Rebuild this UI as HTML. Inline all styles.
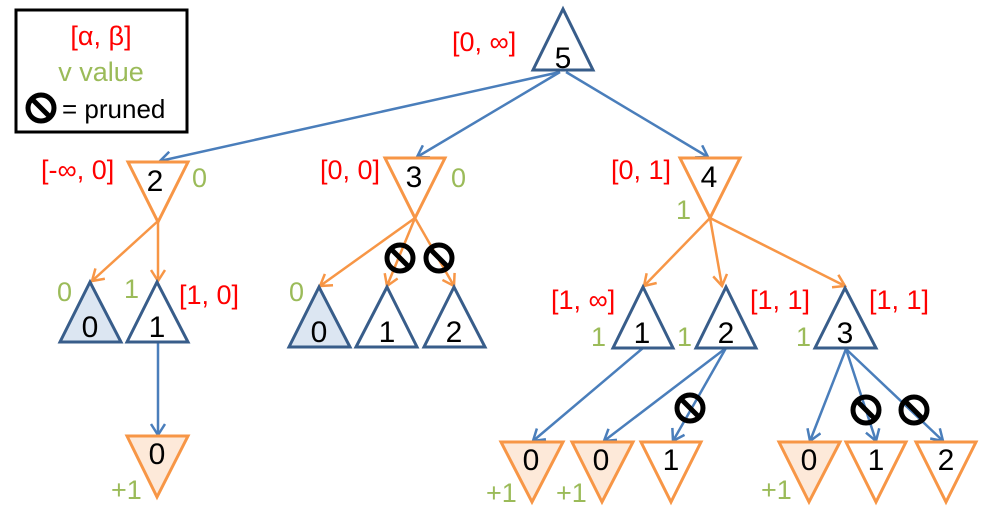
<!DOCTYPE html>
<html><head><meta charset="utf-8"><style>
html,body{margin:0;padding:0;background:#fff;}
svg{display:block;font-family:"Liberation Sans","DejaVu Sans",sans-serif;}
.r{fill:#ff0000;font-size:27px;}
.g{fill:#9bbb59;font-size:27px;}
.k{fill:#000;font-size:30px;text-anchor:middle;}
.mx{stroke:#385d8a;stroke-width:3;fill:#fff;}
.mxf{stroke:#385d8a;stroke-width:3;fill:#dce6f2;}
.mn{stroke:#f79646;stroke-width:3;fill:#fff;}
.mnf{stroke:#f79646;stroke-width:3;fill:#fde9d9;}
.b{stroke:#4a7ebb;stroke-width:2.5;fill:none;marker-end:url(#ab);}
.o{stroke:#f79646;stroke-width:2.5;fill:none;marker-end:url(#ao);}
</style></head><body>
<svg width="993" height="520" viewBox="0 0 993 520">
<defs>
<marker id="ab" markerWidth="14" markerHeight="16" refX="12" refY="8" orient="auto" markerUnits="userSpaceOnUse"><path d="M1,1 L12,8 L1,15" fill="none" stroke="#4a7ebb" stroke-width="2.5"/></marker>
<marker id="ao" markerWidth="14" markerHeight="16" refX="12" refY="8" orient="auto" markerUnits="userSpaceOnUse"><path d="M1,1 L12,8 L1,15" fill="none" stroke="#f79646" stroke-width="2.5"/></marker>
<g id="pr"><circle r="13" fill="none" stroke="#000" stroke-width="5"/><line x1="-9" y1="-9" x2="9" y2="9" stroke="#000" stroke-width="5"/></g>
</defs>
<rect x="16" y="10" width="171" height="122" fill="#fff" stroke="#000" stroke-width="3"/>
<text x="101" y="45" class="r" text-anchor="middle">[α, β]</text>
<text x="101" y="81" class="g" text-anchor="middle">v value</text>
<use href="#pr" x="41" y="108"/>
<text x="62" y="118" style="font-size:26px">= pruned</text>

<line class="b" x1="560" y1="72" x2="160" y2="161"/>
<line class="b" x1="560" y1="72" x2="417" y2="157"/>
<line class="b" x1="566" y1="72" x2="708" y2="157"/>
<line class="o" x1="158" y1="221" x2="92" y2="281"/>
<line class="o" x1="158" y1="221" x2="158" y2="281"/>
<line class="b" x1="158" y1="343" x2="158" y2="435"/>
<line class="o" x1="415" y1="218" x2="320" y2="286"/>
<line class="o" x1="415" y1="218" x2="387" y2="286"/>
<line class="o" x1="415" y1="218" x2="454" y2="286"/>
<line class="o" x1="710" y1="218" x2="644" y2="286"/>
<line class="o" x1="710" y1="218" x2="722" y2="286"/>
<line class="o" x1="710" y1="218" x2="845" y2="286"/>
<line class="b" x1="643" y1="348" x2="533" y2="441"/>
<line class="b" x1="726" y1="348" x2="604" y2="441"/>
<line class="b" x1="726" y1="348" x2="673" y2="441"/>
<line class="b" x1="846" y1="349" x2="810" y2="441"/>
<line class="b" x1="846" y1="349" x2="876" y2="441"/>
<line class="b" x1="846" y1="349" x2="943" y2="441"/>

<polygon class="mx" points="563,9 533,70 593,70"/>
<text x="563" y="68" class="k">5</text>
<text x="452" y="51" class="r">[0, ∞]</text>

<polygon class="mn" points="128,162 188,162 158,222"/>
<text x="155" y="191" class="k">2</text>
<text x="41" y="179" class="r">[-∞, 0]</text>
<text x="192" y="187" class="g">0</text>

<polygon class="mn" points="385,158 445,158 415,218"/>
<text x="414" y="187" class="k">3</text>
<text x="320" y="179" class="r">[0, 0]</text>
<text x="451" y="187" class="g">0</text>

<polygon class="mn" points="680,158 740,158 710,218"/>
<text x="709" y="187" class="k">4</text>
<text x="611" y="179" class="r">[0, 1]</text>
<text x="676" y="219" class="g">1</text>

<polygon class="mxf" points="90,282 60,342 121,342"/>
<text x="90" y="337" class="k">0</text>
<text x="57" y="301" class="g">0</text>
<polygon class="mx" points="157,282 127,342 188,342"/>
<text x="157" y="337" class="k">1</text>
<text x="124" y="298" class="g">1</text>
<text x="179" y="304" class="r">[1, 0]</text>

<polygon class="mxf" points="319,287 289,347 350,347"/>
<text x="319" y="342" class="k">0</text>
<text x="289" y="301" class="g">0</text>
<polygon class="mx" points="387,287 356,347 417,347"/>
<text x="387" y="342" class="k">1</text>
<polygon class="mx" points="454,287 424,347 485,347"/>
<text x="454" y="342" class="k">2</text>
<use href="#pr" x="400" y="258"/>
<use href="#pr" x="439" y="258"/>

<polygon class="mx" points="643,287 613,348 673,348"/>
<text x="642" y="343" class="k">1</text>
<text x="551" y="309" class="r">[1, ∞]</text>
<text x="591" y="346" class="g">1</text>
<polygon class="mx" points="726,287 696,348 756,348"/>
<text x="726" y="343" class="k">2</text>
<text x="677" y="346" class="g">1</text>
<text x="750" y="309" class="r">[1, 1]</text>
<polygon class="mx" points="845,288 815,348 876,348"/>
<text x="845" y="343" class="k">3</text>
<text x="796" y="346" class="g">1</text>
<text x="869" y="309" class="r">[1, 1]</text>

<polygon class="mnf" points="127,436 188,436 157,497"/>
<text x="157" y="464" class="k">0</text>
<text x="111" y="499" class="g">+1</text>

<polygon class="mnf" points="501,442 563,442 532,502"/>
<text x="531" y="470" class="k">0</text>
<text x="486" y="502" class="g">+1</text>
<polygon class="mnf" points="572,442 633,442 602,502"/>
<text x="601" y="470" class="k">0</text>
<text x="556" y="502" class="g">+1</text>
<polygon class="mn" points="641,442 701,442 671,502"/>
<text x="671" y="470" class="k">1</text>
<use href="#pr" x="690" y="408"/>

<polygon class="mnf" points="779,442 840,442 809,502"/>
<text x="809" y="470" class="k">0</text>
<text x="761" y="499" class="g">+1</text>
<polygon class="mn" points="846,442 906,442 876,502"/>
<text x="876" y="470" class="k">1</text>
<polygon class="mn" points="916,442 976,442 946,502"/>
<text x="946" y="470" class="k">2</text>
<use href="#pr" x="866" y="410"/>
<use href="#pr" x="914" y="410"/>
</svg>
</body></html>
